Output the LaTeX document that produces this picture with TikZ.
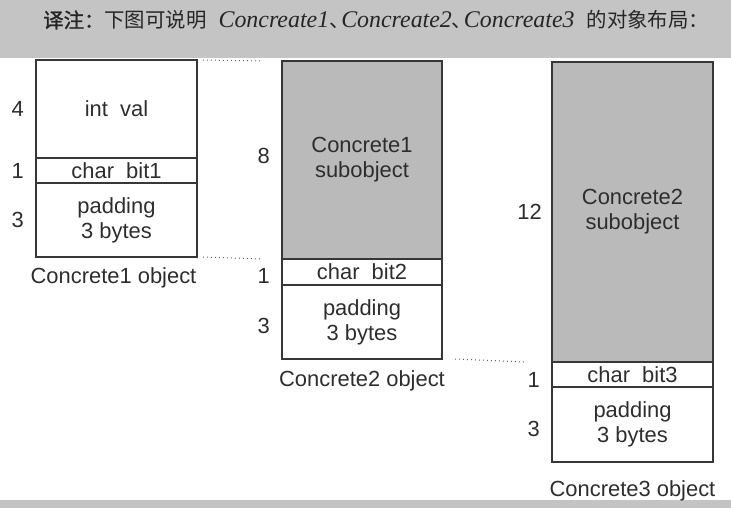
\documentclass[tikz,border=0pt]{standalone}
\usepackage{fontspec}
\usetikzlibrary{positioning}
\setmainfont{Liberation Sans}
\newfontfamily\cjkfont{Noto Sans CJK SC}
\newfontfamily\cjkbold[FakeBold=1.5]{Noto Sans CJK SC}
\newfontfamily\serifit{Liberation Serif}
\definecolor{ink}{RGB}{45,45,45}
\definecolor{rule}{RGB}{55,55,55}
\definecolor{band}{RGB}{196,196,196}
\definecolor{shade}{RGB}{186,186,186}
\newcommand{\cellfont}{\fontsize{22}{25}\selectfont}
\newcommand{\hdlatin}[1]{{\serifit\itshape\fontsize{24}{26}\selectfont #1}}
\newcommand{\dunhao}{\makebox[12bp][l]{\cjkfont 、}}

\begin{document}
\begin{tikzpicture}[x=1bp,y=-1bp]
\tikzstyle{blk}=[draw=rule,line width=1.6bp,outer sep=0pt,inner sep=0pt,minimum width=161bp,align=center,text=ink,font=\cellfont]
\tikzstyle{sub}=[blk,fill=shade]
\tikzstyle{num}=[text=ink,font=\cellfont,inner sep=0pt]
\tikzstyle{gap}=[draw=rule!80,line width=1bp,dash pattern=on 1bp off 3bp]

   \useasboundingbox (0,0) rectangle (731,508);
   \fill[band] (0,0) rectangle (731,58);
   \fill[band] (0,500) rectangle (731,508);

   \node (title) [anchor=west,inner sep=0pt,text=black!85,font=\fontsize{20.5}{24}\selectfont] at (43,20)
      {{\cjkbold 译注：}{\cjkfont 下图可说明}\hspace{12bp}\hdlatin{Concreate1}\dunhao\hdlatin{Concreate2}\dunhao\hdlatin{Concreate3}\hspace{12bp}{\cjkfont 的对象布局：}};

   % Concrete1
   \draw (116.5,60) node (val1) [blk,anchor=north,minimum height=98bp] {int\ \ val};
   \node (bit1) [blk,below=0pt of val1,minimum height=25bp] {char\ \ bit1};
   \node (pad1) [blk,below=0pt of bit1,minimum height=74bp] {padding\\3 bytes};
   \node (cap1) [num,below=10bp of pad1,xshift=-3bp] {Concrete1 object};
   \node (w4) [num,left=12bp of val1] {4};
   \node (w1a) [num,left=12bp of bit1] {1};
   \node (w3a) [num,left=12bp of pad1] {3};

   % Concrete2
   \draw (362,61) node (sub2) [sub,anchor=north,minimum width=160bp,minimum height=198bp] {Concrete1\\subobject};
   \node (bit2) [blk,below=0pt of sub2,minimum width=160bp,minimum height=26bp] {char\ \ bit2};
   \node (pad2) [blk,below=0pt of bit2,minimum width=160bp,minimum height=74bp] {padding\\3 bytes};
   \node (cap2) [num,below=11bp of pad2] {Concrete2 object};
   \node (w8) [num,left=12bp of sub2,yshift=4bp] {8};
   \node (w1b) [num,left=12bp of bit2,yshift=-4bp] {1};
   \node (w3b) [num,left=12bp of pad2,yshift=-4bp] {3};

   % Concrete3
   \draw (632.5,62) node (sub3) [sub,anchor=north,minimum height=300bp] {Concrete2\\subobject};
   \node (bit3) [blk,below=0pt of sub3,minimum height=25bp] {char\ \ bit3};
   \node (pad3) [blk,below=0pt of bit3,minimum height=75bp] {padding\\3 bytes};
   \node (cap3) [num,below=18bp of pad3] {Concrete3 object};
   \node (w12) [num,left=10bp of sub3] {12};
   \node (w1c) [num,left=12bp of bit3,yshift=-5bp] {1};
   \node (w3c) [num,left=12bp of pad3,yshift=-4bp] {3};

   \path [gap] ([xshift=6bp]val1.north east) -- ([xshift=-19bp]sub2.north west) ;
   \path [gap] ([xshift=6bp]pad1.south east) -- ([xshift=-20bp]sub2.south west) ;
   \path [gap] ([xshift=13bp]pad2.south east) -- ([xshift=-27bp]sub3.south west) ;
\end{tikzpicture}
\end{document}
